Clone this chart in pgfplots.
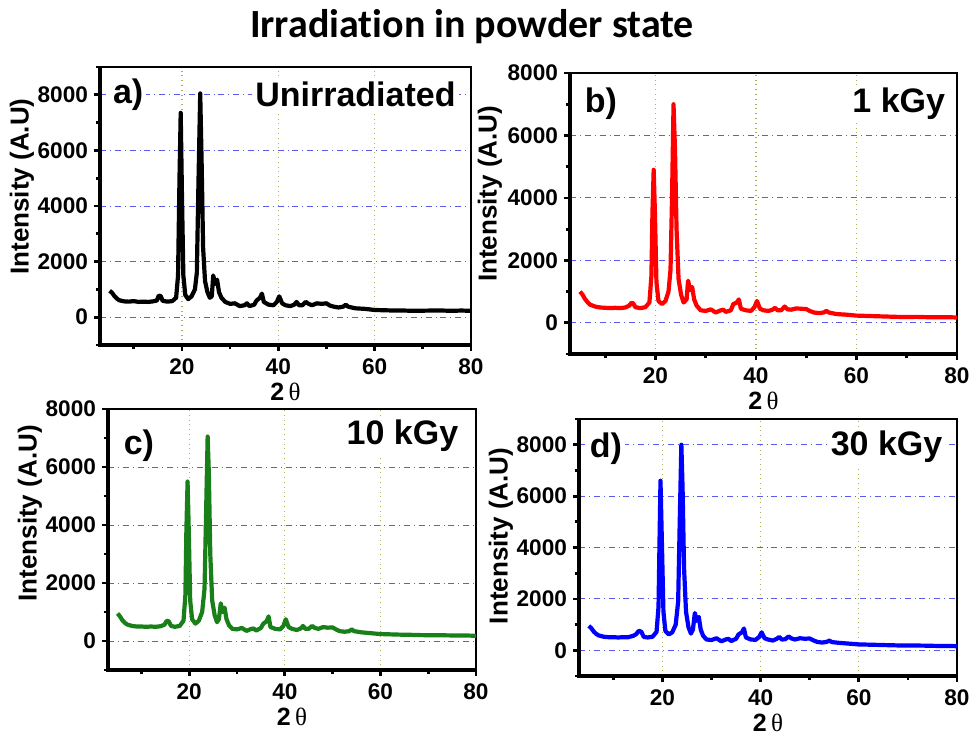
\documentclass[border=0pt]{standalone}
\usepackage{fontspec}
\setmainfont{Liberation Sans}
\newfontfamily\titlefont[Ligatures=NoCommon]{Carlito}
\newfontfamily\seriffont{Liberation Serif}
\usepackage{pgfplots}
\pgfplotsset{compat=1.18}
\definecolor{gridol}{RGB}{175,175,90}
\definecolor{gridbl}{RGB}{90,90,235}
\definecolor{xgreen}{RGB}{25,128,25}
\tikzset{lab/.style={fill=white, inner sep=1.5pt, font=\fontsize{17}{19}\selectfont\bfseries}}
\pgfplotsset{
  xrdax/.style={
    scale only axis, anchor=south west,
    xmin=3, xmax=80, ymin=-1000,
    xtick={20,40,60,80}, minor xtick={10,30,50,70},
    ytick={0,2000,4000,6000,8000}, minor ytick={-1000,1000,3000,5000,7000,9000},
    grid=major,
    x grid style={gridol, dotted, line width=0.6pt},
    y grid style={gridbl, dash dot, line width=0.45pt},
    axis line style={line width=0.6pt},
    tick align=outside, xtick pos=bottom, ytick pos=left,
    major tick length=3pt, minor tick length=2.2pt,
    every tick/.style={black, line width=1.4pt},
    tick label style={font=\fontsize{11.3}{13}\selectfont\bfseries},
    /pgf/number format/assume math mode=true,
    /pgf/number format/1000 sep={},
    xticklabel style={yshift=-0.5pt},
    yticklabel style={xshift=0.5pt},
    xlabel={2\,{\seriffont\mdseries θ}},
    xlabel style={font=\fontsize{12.5}{14}\selectfont\bfseries, yshift=3pt},
    ylabel={Intensity (A.U)},
    ylabel style={font=\fontsize{13}{15}\selectfont\bfseries, anchor=center, yshift=39pt},
    after end axis/.code={\draw[line width=1.6pt] (rel axis cs:0,1) -- (rel axis cs:0,0) -- (rel axis cs:1,0);},
    every axis plot/.append style={line width=2.1pt, line join=round},
  },
}
\begin{document}
\begin{tikzpicture}
\useasboundingbox (0,0) rectangle (485.5pt,-368pt);
\node[font=\titlefont\fontsize{20}{23}\selectfont\bfseries, anchor=base] at (236pt,-18.5pt) {Irradiation in powder state};

% a)
\begin{axis}[xrdax, at={(50pt,-172.5pt)}, width=185.5pt, height=139pt, ymax=9000,
  ylabel style={at={(rel axis cs:0,0.57)}}]
\addplot[black] coordinates {
(5,950)(5.5,880)(6,760)(6.5,670)(7,610)(8,570)(9,560)(10,580)(11,550)(12,560)(13,550)(14,570)(14.8,600)(15.2,780)(15.6,760)(16,590)(17,560)(18,580)(18.8,700)(19.2,1500)(19.5,5000)(19.75,7350)(20,4500)(20.3,1500)(20.7,800)(21.3,650)(22,750)(22.7,1000)(23.1,1600)(23.4,4500)(23.8,8050)(24.1,5500)(24.4,2500)(24.8,1300)(25.3,900)(25.8,700)(26.2,750)(26.5,1500)(26.9,1200)(27.3,1350)(27.7,900)(28.2,700)(29,550)(30,480)(31,500)(31.5,450)(32,400)(33,430)(33.5,500)(34,400)(35,450)(35.5,600)(36.2,700)(36.6,850)(37,550)(38,450)(39,430)(39.7,550)(40.2,750)(40.8,500)(41.5,430)(42.5,400)(43.3,450)(43.8,550)(44.3,430)(45,430)(45.7,550)(46.3,480)(47,430)(48,500)(49,480)(50,500)(50.7,420)(51.5,380)(52.5,350)(53.5,380)(54,450)(54.5,380)(56,320)(58,300)(60,260)(62,250)(64,240)(66,240)(68,230)(70,235)(72,240)(74,240)(76,230)(78,240)(80,230)
};
\node[lab, anchor=base west] at (axis cs:5,7700) {a)};
\node[lab, anchor=base east] at (axis cs:77.5,7570) {Unirradiated};
\end{axis}

% b)
\begin{axis}[xrdax, at={(285pt,-177pt)}, width=193.5pt, height=140.5pt, ymax=8000,
  ylabel style={at={(rel axis cs:0,0.57)}, yshift=1pt}]
\addplot[red] coordinates {
(5,1000)(5.5,900)(6,760)(6.5,660)(7,580)(8,520)(9,490)(10,480)(11,470)(12,480)(13,470)(14,490)(14.8,550)(15.2,640)(15.6,620)(16,500)(17,470)(18,500)(18.8,650)(19.2,1500)(19.4,3500)(19.65,4900)(19.9,3500)(20.2,1300)(20.6,700)(21.3,600)(22,700)(22.6,1000)(23,1700)(23.3,4000)(23.6,7000)(23.9,5500)(24.2,3000)(24.6,1400)(25.1,900)(25.6,650)(26.2,750)(26.5,1350)(26.9,1050)(27.3,1150)(27.7,750)(28.2,550)(29,400)(30,380)(31,430)(31.5,380)(32,330)(33,400)(33.5,420)(34,350)(35,400)(35.5,600)(36.2,650)(36.6,750)(37,450)(38,400)(39,380)(39.7,500)(40.2,700)(40.8,450)(41.5,400)(42.5,380)(43.3,420)(43.8,480)(44.3,400)(45,400)(45.7,520)(46.3,430)(47,420)(48,460)(49,450)(50,440)(50.7,380)(51.5,330)(52.5,310)(53.5,330)(54,380)(54.5,330)(56,280)(58,260)(60,230)(62,220)(64,210)(66,200)(68,190)(70,185)(72,190)(74,180)(76,175)(78,180)(80,170)
};
\node[lab, anchor=base west] at (axis cs:5.3,6720) {b)};
\node[lab, anchor=base east] at (axis cs:78.3,6720) {1 kGy};
\end{axis}

% c)
\begin{axis}[xrdax, at={(54pt,-335pt)}, width=184pt, height=130.5pt, ymax=8000,
  ylabel style={at={(rel axis cs:0,0.6)}}]
\addplot[xgreen] coordinates {
(5,950)(5.5,850)(6,720)(6.5,630)(7,570)(8,520)(9,500)(10,500)(11,490)(12,500)(13,490)(14,510)(14.8,560)(15.3,700)(15.7,680)(16.2,520)(17,490)(18,520)(18.8,700)(19.2,1600)(19.4,3800)(19.65,5500)(19.9,3800)(20.2,1400)(20.6,750)(21.3,600)(22,700)(22.7,1000)(23.2,1800)(23.5,4200)(23.85,7050)(24.1,5800)(24.4,3000)(24.8,1400)(25.3,900)(25.8,650)(26.2,750)(26.6,1300)(27,1000)(27.4,1150)(27.8,750)(28.3,550)(29,420)(30,400)(31,450)(31.5,400)(32,350)(33,420)(33.5,430)(34,360)(35,450)(35.5,600)(36.2,680)(36.6,850)(37,480)(38,420)(39,400)(39.7,520)(40.2,750)(40.8,480)(41.5,420)(42.5,380)(43.3,430)(43.8,520)(44.3,420)(45,420)(45.7,520)(46.3,450)(47,420)(48,480)(49,460)(50,470)(50.7,400)(51.5,340)(52.5,320)(53.5,340)(54,400)(54.5,340)(56,300)(58,270)(60,240)(62,230)(64,220)(66,215)(68,205)(70,200)(72,200)(74,195)(76,190)(78,190)(80,180)
};
\node[lab, anchor=base west] at (axis cs:5.6,6420) {c)};
\node[lab, anchor=base east] at (axis cs:77,6770) {10 kGy};
\end{axis}

% d)
\begin{axis}[xrdax, at={(289.5pt,-338pt)}, width=189pt, height=128.5pt, ymax=9000,
  ylabel style={at={(rel axis cs:0,0.545)}}]
\addplot[blue] coordinates {
(5,950)(5.5,860)(6,730)(6.5,640)(7,580)(8,530)(9,510)(10,510)(11,500)(12,510)(13,510)(14,560)(14.6,620)(15.2,760)(15.7,720)(16.2,520)(17,500)(18,530)(18.8,720)(19.2,1700)(19.4,4200)(19.6,6600)(19.85,4500)(20.2,1500)(20.6,750)(21.3,620)(22,700)(22.7,1000)(23.2,1900)(23.5,4800)(23.85,8000)(24.1,6300)(24.4,3200)(24.8,1500)(25.3,900)(25.8,650)(26.2,800)(26.6,1450)(27,1150)(27.4,1300)(27.8,800)(28.3,560)(29,420)(30,400)(31,470)(31.5,410)(32,350)(33,430)(33.5,440)(34,360)(35,450)(35.5,620)(36.2,700)(36.6,850)(37,500)(38,420)(39,410)(39.7,520)(40.2,700)(40.8,470)(41.5,420)(42.5,380)(43.3,450)(43.8,520)(44.3,420)(45,430)(45.7,540)(46.3,460)(47,420)(48,470)(49,450)(50,460)(50.7,390)(51.5,330)(52.5,300)(53.5,330)(54,380)(54.5,320)(56,290)(58,260)(60,230)(62,220)(64,210)(66,200)(68,190)(70,190)(72,185)(74,180)(76,170)(78,170)(80,160)
};
\node[lab, anchor=base west] at (axis cs:4.5,7500) {d)};
\node[lab, anchor=base east] at (axis cs:77.7,7580) {30 kGy};
\end{axis}
\end{tikzpicture}
\end{document}
